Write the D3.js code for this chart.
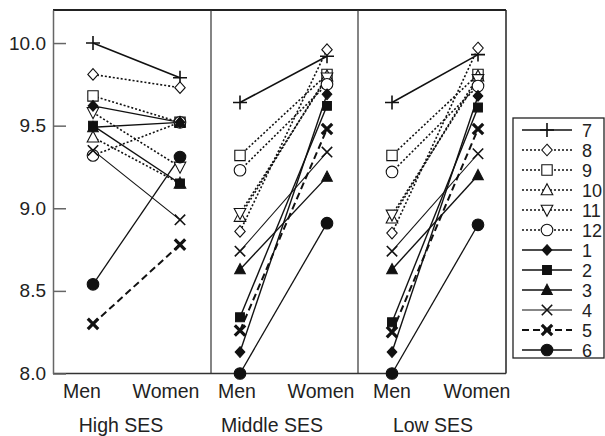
<!DOCTYPE html>
<html><head><meta charset="utf-8">
<script src="https://cdn.jsdelivr.net/npm/d3@7"></script>
<style>
html,body{margin:0;padding:0;background:#fff;}
svg{display:block;font-family:"Liberation Sans",Arial,Helvetica,sans-serif;}
</style></head>
<body><svg id="c" width="605" height="436"></svg>
<script>
// ---- data ----
const series = ["1","2","3","4","5","6","7","8","9","10","11","12"];
const legendOrder = ["7","8","9","10","11","12","1","2","3","4","5","6"];
const panels = ["High SES","Middle SES","Low SES"];
const genders = ["Men","Women"];
// values in series order 1..12
const highMen     = [9.62, 9.50, 9.49, 9.35, 8.30, 8.54, 10.00, 9.81, 9.68, 9.43, 9.58, 9.32];
const highWomen   = [9.52, 9.15, 9.52, 8.93, 8.78, 9.31, 9.79, 9.73, 9.52, 9.15, 9.25, 9.52];
const middleMen   = [8.13, 8.34, 8.63, 8.74, 8.26, 8.00, 9.64, 8.86, 9.32, 8.95, 8.97, 9.23];
const middleWomen = [9.69, 9.62, 9.19, 9.34, 9.48, 8.91, 9.92, 9.96, 9.81, 9.80, 9.79, 9.75];
const lowMen      = [8.13, 8.31, 8.63, 8.74, 8.25, 8.00, 9.64, 8.85, 9.32, 8.94, 8.96, 9.22];
const lowWomen    = [9.68, 9.61, 9.20, 9.33, 9.48, 8.90, 9.93, 9.97, 9.81, 9.80, 9.78, 9.74];
const yTicks = [8.0, 8.5, 9.0, 9.5, 10.0];

// ---- styles ----
const markerOf = {"1":"diamondF","2":"squareF","3":"triF","4":"x","5":"xBold","6":"circleF",
  "7":"plus","8":"diamond","9":"square","10":"tri","11":"triDown","12":"circle"};
const dashOf = {"1":null,"2":null,"3":null,"4":null,"5":"7,4","6":null,"7":null,
  "8":"2,2","9":"2,2","10":"2,2","11":"2,2","12":"2,2"};
const widthOf = {"1":1.4,"2":1.4,"3":1.4,"4":1.1,"5":2,"6":1.3,"7":1.6,
  "8":1.6,"9":1.6,"10":1.6,"11":1.6,"12":1.6};

// ---- layout ----
const W = 605, H = 436;
const plotTop = 10, plotBottom = 373.5, plotLeft = 53, plotRight = 506;
const panelEdges = [53, 211, 358, 506];
const pointX = [[93, 180], [240, 327], [392, 478]];
const genderLabelX = [[82, 166], [237, 321], [392, 477]];
const panelLabelX = [121, 272, 433];

const svg = d3.select("#c");
svg.append("rect").attr("width", W).attr("height", H).attr("fill", "#fff");

const y = d3.scaleLinear().domain([8, 10.2]).range([plotBottom, plotTop]);
const xs = pointX.map(r => d3.scaleLinear().domain([0, 1]).range(r));

const panelData = [[highMen, highWomen], [middleMen, middleWomen], [lowMen, lowWomen]];

function markerPath(type, cx, cy) {
  const p = d3.path();
  const s = 5.2;
  switch (type) {
    case "diamond":
      p.moveTo(cx, cy - 5.8); p.lineTo(cx + 5.2, cy); p.lineTo(cx, cy + 5.8); p.lineTo(cx - 5.2, cy); p.closePath(); break;
    case "diamondF":
      p.moveTo(cx, cy - 5.3); p.lineTo(cx + 4.8, cy); p.lineTo(cx, cy + 5.3); p.lineTo(cx - 4.8, cy); p.closePath(); break;
    case "square":
      p.rect(cx - 5.2, cy - 5.2, 10.4, 10.4); break;
    case "squareF":
      p.rect(cx - 4.4, cy - 4.4, 8.8, 8.8); break;
    case "tri":
      p.moveTo(cx, cy - 6.2); p.lineTo(cx + 5.8, cy + 4.8); p.lineTo(cx - 5.8, cy + 4.8); p.closePath(); break;
    case "triF":
      p.moveTo(cx, cy - 5.8); p.lineTo(cx + 5.3, cy + 4.4); p.lineTo(cx - 5.3, cy + 4.4); p.closePath(); break;
    case "triDown":
      p.moveTo(cx, cy + 6.2); p.lineTo(cx + 5.8, cy - 4.8); p.lineTo(cx - 5.8, cy - 4.8); p.closePath(); break;
    case "circle": case "circleF":
      p.moveTo(cx + 5.8, cy); p.arc(cx, cy, 5.8, 0, 2 * Math.PI); break;
    case "plus":
      p.moveTo(cx - 7, cy); p.lineTo(cx + 7, cy); p.moveTo(cx, cy - 7); p.lineTo(cx, cy + 7); break;
    case "x": case "xBold":
      p.moveTo(cx - s, cy - s); p.lineTo(cx + s, cy + s); p.moveTo(cx + s, cy - s); p.lineTo(cx - s, cy + s); break;
  }
  return p.toString();
}
function styleMarker(sel, type) {
  const filled = type.endsWith("F");
  const open = ["diamond","square","tri","triDown","circle"].includes(type);
  sel.attr("fill", filled ? "#111" : (open ? "#fff" : "none"))
     .attr("stroke", "#111")
     .attr("stroke-width", type === "xBold" ? 3.2 : (type === "plus" || type === "x" ? 1.6 : 1.1));
}

// dividers & frame
const frame = svg.append("g");
frame.append("line").attr("x1", plotLeft).attr("x2", plotRight).attr("y1", plotTop).attr("y2", plotTop)
  .attr("stroke", "#222").attr("stroke-width", 2);
frame.append("line").attr("x1", plotRight).attr("x2", plotRight).attr("y1", plotTop).attr("y2", plotBottom)
  .attr("stroke", "#222").attr("stroke-width", 1.5);
panelEdges.slice(1, 3).forEach(e => {
  frame.append("line").attr("x1", e).attr("x2", e).attr("y1", plotTop).attr("y2", plotBottom)
    .attr("stroke", "#333").attr("stroke-width", 1.2);
});
frame.append("line").attr("x1", plotLeft).attr("x2", plotRight).attr("y1", plotBottom).attr("y2", plotBottom)
  .attr("stroke", "#333").attr("stroke-width", 1.5);

// y axis
const yAxis = d3.axisLeft(y).tickValues(yTicks).tickFormat(d3.format(".1f")).tickSizeInner(-13).tickSizeOuter(0).tickPadding(20);
const ga = svg.append("g").attr("transform", `translate(${plotLeft},0)`).call(yAxis);
ga.select(".domain").attr("stroke", "#666").attr("stroke-width", 1.5);
ga.selectAll(".tick line").attr("stroke", "#666").attr("stroke-width", 1.5);
ga.selectAll(".tick text").attr("font-size", 19).attr("fill", "#222")
  .attr("font-family", "Liberation Sans, Arial, sans-serif").attr("dx", 13);

// lines and markers
const gLines = svg.append("g"), gMarks = svg.append("g");
panelData.forEach((pd, pi) => {
  series.forEach((s, si) => {
    const v0 = pd[0][si], v1 = pd[1][si];
    gLines.append("line")
      .attr("x1", xs[pi](0)).attr("y1", y(v0)).attr("x2", xs[pi](1)).attr("y2", y(v1))
      .attr("stroke", "#111").attr("stroke-width", widthOf[s])
      .attr("stroke-dasharray", dashOf[s]);
  });
});
panelData.forEach((pd, pi) => {
  legendOrder.forEach(s => {
    const si = series.indexOf(s);
    [0, 1].forEach(g => {
      gMarks.append("path").attr("d", markerPath(markerOf[s], xs[pi](g), y(pd[g][si])))
        .call(styleMarker, markerOf[s]);
    });
  });
});

// x labels
panels.forEach((p, pi) => {
  genders.forEach((g, gi) => {
    svg.append("text").attr("x", genderLabelX[pi][gi]).attr("y", 398).attr("text-anchor", "middle")
      .attr("font-size", 19.5).attr("fill", "#222").text(g);
  });
  svg.append("text").attr("x", panelLabelX[pi]).attr("y", 432).attr("text-anchor", "middle")
    .attr("font-size", 19.5).attr("fill", "#222").text(p);
});

// legend
const lg = svg.append("g");
const legTop = 118, legBottom = 358, legLeft = 513, legRight = 604;
lg.append("rect").attr("x", legLeft).attr("y", legTop).attr("width", legRight - legLeft).attr("height", legBottom - legTop)
  .attr("fill", "#fff").attr("stroke", "#222").attr("stroke-width", 1.3);
const ly = d3.scalePoint().domain(legendOrder).range([130, 350]);
legendOrder.forEach(s => {
  const yy = ly(s);
  lg.append("line").attr("x1", 522).attr("x2", 572).attr("y1", yy).attr("y2", yy)
    .attr("stroke", "#111").attr("stroke-width", widthOf[s]).attr("stroke-dasharray", dashOf[s]);
  lg.append("path").attr("d", markerPath(markerOf[s], 547, yy)).call(styleMarker, markerOf[s]);
  lg.append("text").attr("x", 582).attr("y", yy + 6.5).attr("font-size", 18).attr("fill", "#222").text(s);
});
</script></body></html>
